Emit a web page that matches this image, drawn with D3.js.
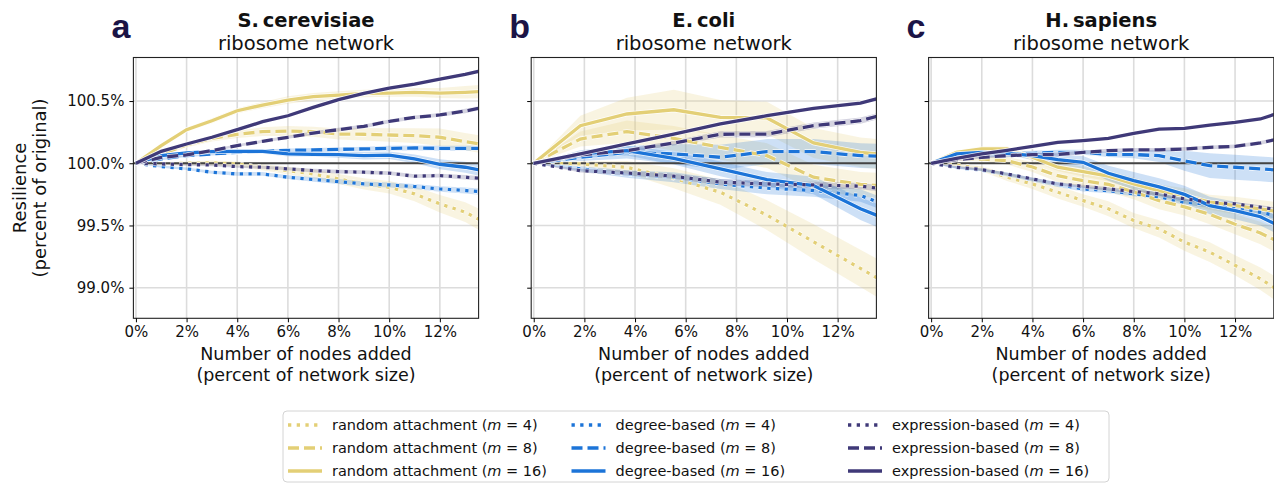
<!DOCTYPE html>
<html>
<head>
<meta charset="utf-8">
<script src="https://cdn.jsdelivr.net/npm/d3@7"></script>
<style>
  body { margin: 0; background: #fff; }
  text { font-family: "DejaVu Sans", sans-serif; fill: #111; }
</style>
</head>
<body>
<div id="chart"></div>
<script>
// x positions (percent of network size) sampled per network
const xCer = [0, 1, 2, 3, 4, 5, 6, 7, 8, 9, 10, 11, 12, 13, 14];
const xEco = [0, 1.84, 3.68, 5.53, 7.37, 9.21, 11.05, 12.9, 14.74];
const xHsa = [0, 1, 2, 3, 4, 5, 6, 7, 8, 9, 10, 11, 12, 13, 14];

// change in resilience (percentage points from 100%) and band half-width
// S. cerevisiae
const cerRand4 = [0, -0.005, 0, 0.003, -0.005, -0.032, -0.059, -0.086, -0.126, -0.166, -0.193, -0.246, -0.326, -0.393, -0.5];
const cerRand4Err = [0, .01, .015, .02, .02, .025, .03, .035, .04, .045, .05, .06, .07, .08, .09];
const cerRand8 = [0, 0.075, 0.147, 0.2, 0.233, 0.254, 0.259, 0.254, 0.235, 0.233, 0.227, 0.222, 0.209, 0.174, 0.14];
const cerRand8Err = [0, .015, .02, .025, .03, .035, .04, .04, .045, .05, .055, .06, .07, .07, .07];
const cerRand16 = [0, 0.142, 0.27, 0.342, 0.422, 0.468, 0.508, 0.535, 0.548, 0.561, 0.564, 0.57, 0.564, 0.57, 0.58];
const cerRand16Err = [0, .01, .015, .02, .02, .025, .03, .03, .03, .03, .03, .035, .04, .05, .055];
const cerDeg4 = [0, -0.027, -0.045, -0.072, -0.086, -0.086, -0.112, -0.131, -0.147, -0.166, -0.174, -0.187, -0.206, -0.219, -0.235];
const cerDeg4Err = [0, .01, .01, .012, .015, .015, .015, .018, .02, .02, .02, .02, .022, .025, .025];
const cerDeg8 = [0, 0.035, 0.061, 0.075, 0.088, 0.096, 0.104, 0.107, 0.112, 0.115, 0.12, 0.123, 0.12, 0.12, 0.12];
const cerDeg8Err = [0, .01, .01, .012, .012, .015, .015, .015, .015, .018, .02, .02, .02, .02, .02];
const cerDeg16 = [0, 0.061, 0.083, 0.094, 0.096, 0.096, 0.075, 0.072, 0.07, 0.061, 0.065, 0.035, -0.008, -0.032, -0.07];
const cerDeg16Err = [0, .01, .012, .015, .015, .018, .02, .02, .025, .03, .03, .035, .04, .045, .05];
const cerExpr4 = [0, -0.005, -0.011, -0.013, -0.027, -0.032, -0.045, -0.059, -0.067, -0.072, -0.08, -0.104, -0.099, -0.112, -0.128];
const cerExpr4Err = [0, .005, .008, .01, .01, .012, .012, .015, .015, .015, .015, .015, .015, .018, .018];
const cerExpr8 = [0, 0.048, 0.067, 0.102, 0.142, 0.176, 0.209, 0.243, 0.27, 0.297, 0.337, 0.369, 0.388, 0.42, 0.46];
const cerExpr8Err = [0, .005, .008, .01, .01, .012, .012, .015, .015, .015, .015, .015, .015, .018, .018];
const cerExpr16 = [0, 0.096, 0.155, 0.209, 0.27, 0.334, 0.382, 0.449, 0.511, 0.561, 0.604, 0.636, 0.676, 0.714, 0.76];
const cerExpr16Err = [0, .005, .005, .006, .006, .008, .008, .008, .008, .008, .008, .008, .01, .01, .01];

// E. coli
const ecoRand4 = [0, -0.005, -0.032, -0.12, -0.233, -0.417, -0.631, -0.845, -1.06];
const ecoRand4Err = [0, .02, .05, .08, .1, .12, .14, .15, .16];
const ecoRand8 = [0, 0.195, 0.254, 0.2, 0.128, 0.061, -0.112, -0.17, -0.19];
const ecoRand8Err = [0, .06, .09, .1, .1, .1, .1, .1, .1];
const ecoRand16 = [0, 0.302, 0.396, 0.43, 0.369, 0.364, 0.163, 0.088, 0.05];
const ecoRand16Err = [0, .08, .13, .16, .14, .13, .12, .12, .12];
const ecoDeg4 = [0, -0.045, -0.086, -0.112, -0.166, -0.2, -0.219, -0.259, -0.4];
const ecoDeg4Err = [0, .02, .03, .04, .04, .05, .05, .05, .05];
const ecoDeg8 = [0, 0.048, 0.088, 0.075, 0.048, 0.094, 0.094, 0.061, 0.05];
const ecoDeg8Err = [0, .03, .05, .08, .1, .1, .1, .1, .1];
const ecoDeg16 = [0, 0.075, 0.102, 0.04, -0.045, -0.131, -0.179, -0.366, -0.515];
const ecoDeg16Err = [0, .03, .04, .05, .06, .06, .07, .09, .1];
const ecoExpr4 = [0, -0.059, -0.078, -0.104, -0.152, -0.166, -0.174, -0.184, -0.23];
const ecoExpr4Err = [0, .015, .02, .02, .025, .025, .025, .025, .025];
const ecoExpr8 = [0, 0.067, 0.102, 0.163, 0.233, 0.235, 0.302, 0.342, 0.44];
const ecoExpr8Err = [0, .01, .015, .02, .025, .025, .025, .025, .025];
const ecoExpr16 = [0, 0.075, 0.155, 0.235, 0.316, 0.382, 0.441, 0.484, 0.58];
const ecoExpr16Err = [0, .01, .01, .01, .01, .01, .01, .01, .01];

// H. sapiens
const hsaRand4 = [0, -0.015, -0.045, -0.112, -0.166, -0.233, -0.3, -0.366, -0.46, -0.527, -0.634, -0.714, -0.82, -0.928, -1.06];
const hsaRand4Err = [0, .01, .02, .03, .04, .05, .05, .06, .06, .07, .07, .08, .08, .09, .1];
const hsaRand8 = [0, 0.03, 0.035, 0.02, -0.03, -0.1, -0.14, -0.17, -0.23, -0.3, -0.35, -0.41, -0.49, -0.56, -0.66];
const hsaRand8Err = [0, .01, .02, .03, .04, .05, .05, .06, .06, .07, .07, .08, .08, .09, .1];
const hsaRand16 = [0, 0.088, 0.115, 0.115, 0.048, -0.032, -0.067, -0.104, -0.166, -0.22, -0.26, -0.313, -0.34, -0.366, -0.4];
const hsaRand16Err = [0, .015, .02, .02, .03, .03, .04, .04, .05, .05, .06, .06, .07, .07, .08];
const hsaDeg4 = [0, -0.035, -0.055, -0.09, -0.131, -0.17, -0.206, -0.22, -0.246, -0.27, -0.313, -0.33, -0.366, -0.395, -0.44];
const hsaDeg4Err = [0, .01, .01, .015, .015, .02, .02, .02, .02, .02, .02, .025, .025, .025, .025];
const hsaDeg8 = [0, 0.048, 0.061, 0.075, 0.08, 0.088, 0.088, 0.07, 0.07, 0.061, 0.02, -0.019, -0.032, -0.045, -0.06];
const hsaDeg8Err = [0, .01, .015, .02, .02, .02, .02, .02, .03, .05, .08, .1, .1, .1, .1];
const hsaDeg16 = [0, 0.075, 0.088, 0.08, 0.061, 0.029, 0.008, -0.08, -0.14, -0.19, -0.25, -0.34, -0.38, -0.43, -0.53];
const hsaDeg16Err = [0, .01, .015, .02, .03, .04, .05, .06, .07, .07, .07, .07, .07, .07, .07];
const hsaExpr4 = [0, -0.032, -0.051, -0.086, -0.126, -0.166, -0.185, -0.206, -0.227, -0.246, -0.286, -0.313, -0.326, -0.353, -0.38];
const hsaExpr4Err = [0, .01, .01, .01, .012, .012, .012, .015, .015, .015, .015, .015, .015, .015, .015];
const hsaExpr8 = [0, 0.029, 0.048, 0.061, 0.07, 0.07, 0.088, 0.102, 0.107, 0.107, 0.115, 0.128, 0.136, 0.163, 0.209];
const hsaExpr8Err = [0, .01, .01, .012, .012, .015, .015, .015, .015, .015, .015, .015, .015, .015, .015];
const hsaExpr16 = [0, 0.04, 0.075, 0.104, 0.136, 0.168, 0.182, 0.2, 0.241, 0.275, 0.281, 0.307, 0.329, 0.356, 0.422];
const hsaExpr16Err = [0, .005, .005, .006, .006, .008, .008, .008, .008, .008, .008, .008, .01, .01, .01];

// tick labels
const xTicks = [0, 2, 4, 6, 8, 10, 12];
const yTicks = [-1.0, -0.5, 0, 0.5];

// series descriptions (legend order)
const strategies = ["random attachment", "degree-based", "expression-based"];
const mValues = [4, 8, 16];
const colors = { "random attachment": "#e3cf76", "degree-based": "#1c74d8", "expression-based": "#3f3978" };
const dashes = { 4: "3.3,5.4", 8: "11,5", 16: null };

const panels = [
  { letter: "a", species: "S.\u2009cerevisiae", x: xCer, series: [
    [cerRand4, cerRand4Err], [cerRand8, cerRand8Err], [cerRand16, cerRand16Err],
    [cerDeg4, cerDeg4Err], [cerDeg8, cerDeg8Err], [cerDeg16, cerDeg16Err],
    [cerExpr4, cerExpr4Err], [cerExpr8, cerExpr8Err], [cerExpr16, cerExpr16Err]] },
  { letter: "b", species: "E.\u2009coli", x: xEco, series: [
    [ecoRand4, ecoRand4Err], [ecoRand8, ecoRand8Err], [ecoRand16, ecoRand16Err],
    [ecoDeg4, ecoDeg4Err], [ecoDeg8, ecoDeg8Err], [ecoDeg16, ecoDeg16Err],
    [ecoExpr4, ecoExpr4Err], [ecoExpr8, ecoExpr8Err], [ecoExpr16, ecoExpr16Err]] },
  { letter: "c", species: "H.\u2009sapiens", x: xHsa, series: [
    [hsaRand4, hsaRand4Err], [hsaRand8, hsaRand8Err], [hsaRand16, hsaRand16Err],
    [hsaDeg4, hsaDeg4Err], [hsaDeg8, hsaDeg8Err], [hsaDeg16, hsaDeg16Err],
    [hsaExpr4, hsaExpr4Err], [hsaExpr8, hsaExpr8Err], [hsaExpr16, hsaExpr16Err]] }
];

const seriesInfo = [];
strategies.forEach(s => mValues.forEach(m => seriesInfo.push({ strategy: s, m: m })));

// Layout
const width = 1274, height = 485;
const plotTop = 57.5, plotBottom = 318.3, plotW = 345.2;
const panelLeft = [133.4, 531.2, 928.6];

const svg = d3.select("#chart").append("svg")
  .attr("width", width).attr("height", height);

panels.forEach((p, pi) => {
  const left = panelLeft[pi];
  const x = d3.scaleLinear().domain([-0.1, 13.53]).range([left, left + plotW]);
  const y = d3.scaleLinear().domain([-1.246, 0.85]).range([plotBottom, plotTop]);
  const g = svg.append("g");

  svg.append("clipPath").attr("id", "clip" + pi)
    .append("rect").attr("x", left).attr("y", plotTop).attr("width", plotW).attr("height", plotBottom - plotTop);

  // grid
  g.selectAll(".gx").data(xTicks).enter().append("line")
    .attr("x1", d => x(d)).attr("x2", d => x(d)).attr("y1", plotTop).attr("y2", plotBottom)
    .style("stroke", "#dcdcdc").style("stroke-width", 1.6);
  g.selectAll(".gy").data(yTicks).enter().append("line")
    .attr("x1", left).attr("x2", left + plotW).attr("y1", d => y(d)).attr("y2", d => y(d))
    .style("stroke", "#dcdcdc").style("stroke-width", 1.6);

  const plot = g.append("g").attr("clip-path", `url(#clip${pi})`);

  // bands
  p.series.forEach((s, si) => {
    const pts = p.x.map((xv, i) => ({ x: xv, m: s[0][i], e: s[1][i] }));
    const area = d3.area().x(d => x(d.x)).y0(d => y(d.m - d.e)).y1(d => y(d.m + d.e));
    plot.append("path").datum(pts).attr("d", area)
      .style("fill", colors[seriesInfo[si].strategy]).style("opacity", 0.22);
  });

  // reference line at 100%
  plot.append("line").attr("x1", left).attr("x2", left + plotW).attr("y1", y(0)).attr("y2", y(0))
    .style("stroke", "#444").style("stroke-width", 1.8);

  // lines
  p.series.forEach((s, si) => {
    const info = seriesInfo[si];
    const pts = p.x.map((xv, i) => ({ x: xv, m: s[0][i] }));
    const line = d3.line().x(d => x(d.x)).y(d => y(d.m));
    plot.append("path").datum(pts).attr("d", line)
      .style("fill", "none").style("stroke", "#fff").style("stroke-width", 4.8)
      .style("stroke-dasharray", dashes[info.m]).style("opacity", 0.85);
    plot.append("path").datum(pts).attr("d", line)
      .style("fill", "none").style("stroke", colors[info.strategy]).style("stroke-width", 3.3)
      .style("stroke-dasharray", dashes[info.m]);
  });

  // frame
  g.append("rect").attr("x", left).attr("y", plotTop).attr("width", plotW).attr("height", plotBottom - plotTop)
    .style("fill", "none").style("stroke", "#222").style("stroke-width", 1.1);

  // axes
  const xAxis = g.append("g").attr("transform", `translate(0,${plotBottom})`)
    .call(d3.axisBottom(x).tickValues(xTicks).tickFormat(d => d + "%").tickSize(4).tickPadding(4));
  xAxis.select(".domain").remove();
  xAxis.selectAll("text").style("font-size", "15px").style("font-family", "DejaVu Sans").style("fill", "#111");

  const yAxis = g.append("g").attr("transform", `translate(${left},0)`)
    .call(d3.axisLeft(y).tickValues(yTicks).tickFormat(d => pi === 0 ? (100 + d).toFixed(1) + "%" : "").tickSize(4).tickPadding(5));
  yAxis.select(".domain").remove();
  yAxis.selectAll("text").style("font-size", "15px").style("font-family", "DejaVu Sans").style("fill", "#111");

  // x-axis label
  const cx = left + plotW / 2;
  g.append("text").attr("x", cx).attr("y", 359.5).style("text-anchor", "middle").style("font-size", "17.5px")
    .text("Number of nodes added");
  g.append("text").attr("x", cx).attr("y", 380.5).style("text-anchor", "middle").style("font-size", "17.5px")
    .text("(percent of network size)");

  // titles
  g.append("text").attr("x", cx).attr("y", 27).style("text-anchor", "middle").style("font-size", "19.5px")
    .style("font-weight", "bold").text(p.species);
  g.append("text").attr("x", cx).attr("y", 50).style("text-anchor", "middle").style("font-size", "19.5px")
    .text("ribosome network");

  // panel letter
  g.append("text").attr("x", left - 22).attr("y", 38).style("font-family", "Liberation Sans, Arial, sans-serif")
    .style("font-weight", "bold").style("font-size", "34px").style("fill", "#1b1446").text(p.letter);
});

// y-axis label
const yMid = (plotTop + plotBottom) / 2;
svg.append("text").attr("transform", `translate(26,${yMid}) rotate(-90)`).style("text-anchor", "middle")
  .style("font-size", "18px").text("Resilience");
svg.append("text").attr("transform", `translate(46,${yMid}) rotate(-90)`).style("text-anchor", "middle")
  .style("font-size", "18px").text("(percent of original)");

// legend
const legend = svg.append("g");
legend.append("rect").attr("x", 283).attr("y", 411).attr("width", 826).attr("height", 71).attr("rx", 4)
  .style("fill", "#fff").style("stroke", "#d4d4d4").style("stroke-width", 1);
const colX = [288, 571.5, 848];
const rowY = [425, 448, 471];
seriesInfo.forEach((info, i) => {
  const c = Math.floor(i / 3), r = i % 3;
  legend.append("line").attr("x1", colX[c]).attr("x2", colX[c] + 34).attr("y1", rowY[r]).attr("y2", rowY[r])
    .style("stroke", colors[info.strategy]).style("stroke-width", 3.3).style("stroke-dasharray", dashes[info.m]);
  const t = legend.append("text").attr("x", colX[c] + 44).attr("y", rowY[r] + 5.3).style("font-size", "14.5px");
  t.append("tspan").text(info.strategy + " (");
  t.append("tspan").style("font-style", "italic").text("m");
  t.append("tspan").text(" = " + info.m + ")");
});
</script>
</body>
</html>
